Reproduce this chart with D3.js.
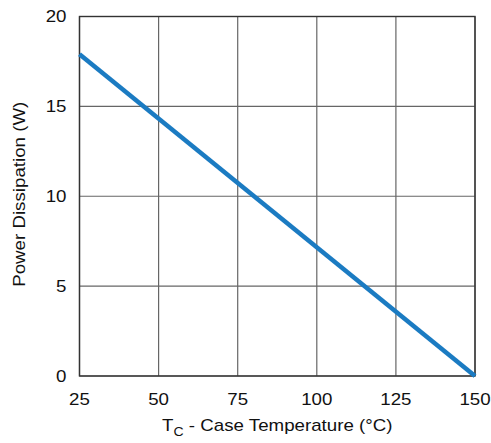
<!DOCTYPE html>
<html>
<head>
<meta charset="utf-8">
<script src="https://cdn.jsdelivr.net/npm/d3@7"></script>
<style>
  body { margin: 0; background: #fff; }
  text { font-family: "Liberation Sans", Arial, sans-serif; fill: #111; }
</style>
</head>
<body>
<svg id="chart" width="491" height="443"></svg>
<script>
// derating curve: power vs case temperature
const temps = [25, 150]
const power = [17.9, 0]
const xTicks = [25, 50, 75, 100, 125, 150]
const yTicks = [0, 5, 10, 15, 20]

const margin = {top: 16.5, right: 16, bottom: 67, left: 79.5}
const width = 491, height = 443
const fs = 16, stretch = 1.17   // reference glyphs are wide

const svg = d3.select('#chart')

const x = d3.scaleLinear()
  .domain([25, 150])
  .range([margin.left, width - margin.right])

const y = d3.scaleLinear()
  .domain([0, 20])
  .range([height - margin.bottom, margin.top])

// grid
svg.append('g')
  .selectAll('line')
  .data(xTicks)
  .enter()
  .append('line')
  .attr('x1', d => x(d)).attr('x2', d => x(d))
  .attr('y1', y(0)).attr('y2', y(20))
  .attr('stroke', '#666').attr('stroke-width', 1.2)

svg.append('g')
  .selectAll('line')
  .data(yTicks)
  .enter()
  .append('line')
  .attr('x1', x(25)).attr('x2', x(150))
  .attr('y1', d => y(d)).attr('y2', d => y(d))
  .attr('stroke', '#666').attr('stroke-width', 1.2)

// frame
svg.append('rect')
  .attr('x', x(25)).attr('y', y(20))
  .attr('width', x(150) - x(25)).attr('height', y(0) - y(20))
  .attr('fill', 'none').attr('stroke', '#333').attr('stroke-width', 1.4)

// tick labels
svg.append('g')
  .selectAll('text')
  .data(yTicks)
  .enter()
  .append('text')
  .attr('transform', d => `translate(${x(25) - 13},${y(d) + 5.5}) scale(${stretch},1)`)
  .attr('text-anchor', 'end')
  .attr('font-size', fs)
  .text(d => d)

svg.append('g')
  .selectAll('text')
  .data(xTicks)
  .enter()
  .append('text')
  .attr('transform', d => `translate(${x(d)},${y(0) + 29}) scale(${stretch},1)`)
  .attr('text-anchor', 'middle')
  .attr('font-size', fs)
  .text(d => d)

// data line
const pts = temps.map((t, i) => [t, power[i]])
svg.append('path')
  .datum(pts)
  .attr('d', d3.line().x(d => x(d[0])).y(d => y(d[1])))
  .attr('fill', 'none')
  .attr('stroke', '#1b7bc2')
  .attr('stroke-width', 4.5)

// axis titles
const xt = svg.append('text')
  .attr('transform', `translate(${(x(25) + x(150)) / 2},431) scale(${stretch},1)`)
  .attr('text-anchor', 'middle')
  .attr('font-size', fs)
xt.append('tspan').text('T')
xt.append('tspan').attr('font-size', 12).attr('dy', 5).text('C')
xt.append('tspan').attr('dy', -5).text(' - Case Temperature (°C)')

svg.append('text')
  .attr('transform', `translate(25,${(y(0) + y(20)) / 2 - 2}) rotate(-90) scale(${stretch},1)`)
  .attr('text-anchor', 'middle')
  .attr('font-size', fs)
  .text('Power Dissipation (W)')
</script>
</body>
</html>
